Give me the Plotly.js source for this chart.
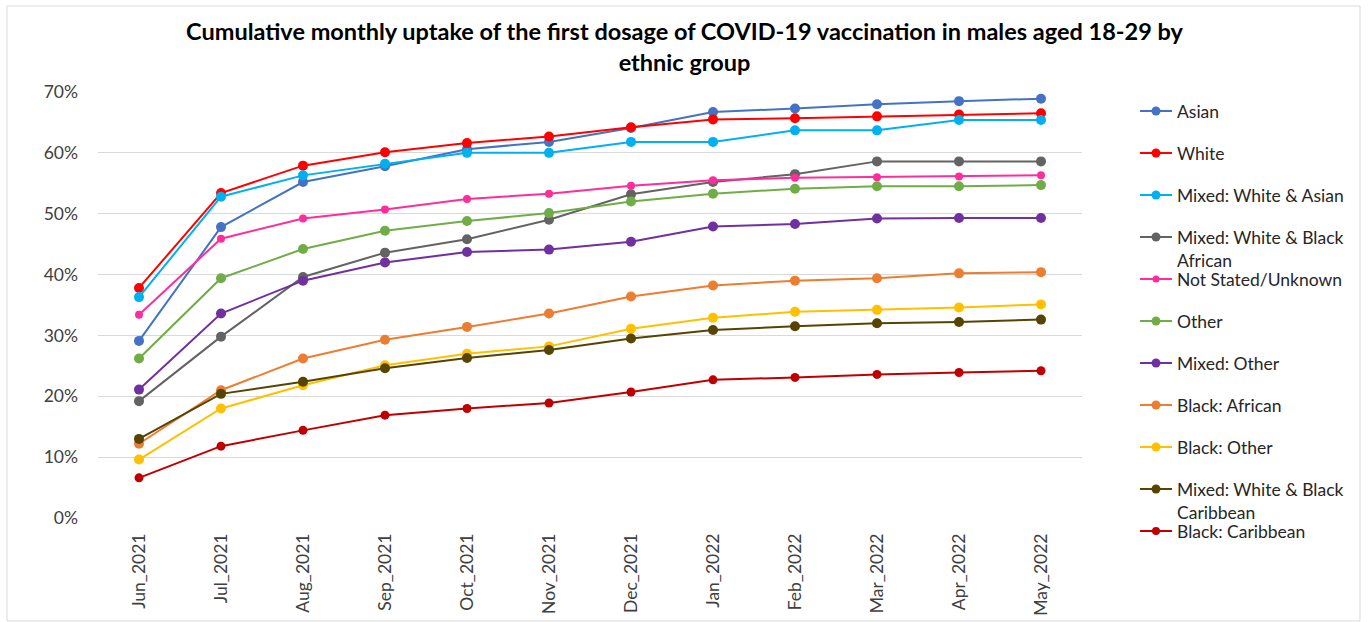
<!DOCTYPE html>
<html>
<head>
<meta charset="utf-8">
<script src="https://cdn.plot.ly/plotly-3.0.1.min.js"></script>
<style>html,body{margin:0;padding:0;background:#fff;}#chart{width:1369px;height:622px;}</style>
</head>
<body>
<div id="chart"></div>
<script>
const months = ["Jun_2021","Jul_2021","Aug_2021","Sep_2021","Oct_2021","Nov_2021","Dec_2021","Jan_2022","Feb_2022","Mar_2022","Apr_2022","May_2022"];

const asian          = [29.1, 47.8, 55.2, 57.8, 60.6, 61.8, 64.1, 66.7, 67.3, 68.0, 68.5, 68.9];
const white          = [37.8, 53.4, 57.9, 60.1, 61.6, 62.7, 64.2, 65.5, 65.7, 66.0, 66.3, 66.5];
const mixedWhiteAsian= [36.3, 52.8, 56.3, 58.2, 60.0, 60.0, 61.8, 61.8, 63.7, 63.7, 65.4, 65.4];
const mixedWhiteBlackAfrican = [19.2, 29.8, 39.6, 43.6, 45.8, 49.0, 53.2, 55.2, 56.5, 58.6, 58.6, 58.6];
const notStated      = [33.4, 45.9, 49.2, 50.7, 52.4, 53.3, 54.6, 55.5, 55.9, 56.0, 56.1, 56.3];
const other          = [26.2, 39.4, 44.2, 47.2, 48.8, 50.1, 52.0, 53.3, 54.1, 54.5, 54.5, 54.7];
const mixedOther     = [21.1, 33.6, 39.0, 42.0, 43.7, 44.1, 45.4, 47.9, 48.3, 49.2, 49.3, 49.3];
const blackAfrican   = [12.2, 21.0, 26.2, 29.3, 31.4, 33.6, 36.4, 38.2, 39.0, 39.4, 40.2, 40.4];
const blackOther     = [9.6, 18.0, 21.8, 25.1, 27.0, 28.2, 31.1, 32.9, 33.9, 34.2, 34.6, 35.1];
const mixedWhiteBlackCaribbean = [13.0, 20.4, 22.4, 24.6, 26.3, 27.6, 29.5, 30.9, 31.5, 32.0, 32.2, 32.6];
const blackCaribbean = [6.6, 11.8, 14.4, 16.9, 18.0, 18.9, 20.7, 22.7, 23.1, 23.6, 23.9, 24.2];

const seriesNames = ["Asian","White","Mixed: White & Asian","Mixed: White & Black African","Not Stated/Unknown","Other","Mixed: Other","Black: African","Black: Other","Mixed: White & Black Caribbean","Black: Caribbean"];
const legendLabels = ["Asian","White","Mixed: White & Asian","Mixed: White & Black<br>African","Not Stated/Unknown","Other","Mixed: Other","Black: African","Black: Other","Mixed: White & Black<br>Caribbean","Black: Caribbean"];
const seriesValues = [asian, white, mixedWhiteAsian, mixedWhiteBlackAfrican, notStated, other, mixedOther, blackAfrican, blackOther, mixedWhiteBlackCaribbean, blackCaribbean];
const colors = ["#4472C4","#FF0000","#00B0F0","#636363","#FF2D9B","#70AD47","#7030A0","#ED7D31","#FFC000","#574400","#C00000"];
const markerSizes = [10,10,10,10,8,10,10,10,10,10,9];

const W = 1369, H = 622;
const plotL = 98, plotR = 1082, plotT = 92, plotB = 518;
const px2x = x => (x - plotL) / (plotR - plotL);
const px2y = y => (plotB - y) / (plotB - plotT);
const FONT = "Lato, sans-serif";

const traces = seriesNames.map((n, i) => ({
  type: "scatter", mode: "lines+markers", name: n,
  x: months, y: seriesValues[i].map(v => v / 100),
  line: {color: colors[i], width: 2},
  marker: {color: colors[i], size: markerSizes[i]},
  showlegend: false,
  hovertemplate: "%{x}: %{y:.1%}<extra>" + n + "</extra>"
}));

// custom legend (to match the reference's layout)
const shapes = [];
const annotations = [];
const legendY0 = 111, legendStep = 42;
const lx0 = 1140, lx1 = 1172, lxm = 1156, ltx = 1175;
seriesNames.forEach((n, i) => {
  const y = legendY0 + i * legendStep;
  shapes.push({type: "line", xref: "paper", yref: "paper", x0: px2x(lx0), x1: px2x(lx1), y0: px2y(y), y1: px2y(y), line: {color: colors[i], width: 2}});
  const r = markerSizes[i] / 2 - 0.5;
  shapes.push({type: "circle", xref: "paper", yref: "paper", x0: px2x(lxm - r), x1: px2x(lxm + r), y0: px2y(y - r), y1: px2y(y + r), fillcolor: colors[i], line: {color: colors[i], width: 0}});
  annotations.push({xref: "paper", yref: "paper", x: px2x(ltx), y: px2y(y - 12), xanchor: "left", yanchor: "top", align: "left",
    text: legendLabels[i], showarrow: false, font: {family: FONT, size: 17.5, color: "#262626"}});
});
// outer frame
shapes.push({type: "rect", xref: "paper", yref: "paper", x0: px2x(7), x1: px2x(1360), y0: px2y(621), y1: px2y(6), line: {color: "#D9D9D9", width: 1}, fillcolor: "rgba(0,0,0,0)", layer: "below"});

const layout = {
  width: W, height: H,
  margin: {l: plotL, r: W - plotR, t: plotT, b: H - plotB},
  paper_bgcolor: "#ffffff", plot_bgcolor: "#ffffff",
  title: {text: "<b>Cumulative monthly uptake of the first dosage of COVID-19 vaccination in males aged 18-29 by<br>ethnic group</b>",
    x: 0.5, xref: "container", xanchor: "center", y: 1 - 40 / 622, yref: "container", yanchor: "top",
    font: {family: FONT, size: 23.5, color: "#000000"}},
  showlegend: false,
  xaxis: {type: "category", tickangle: -90, range: [-0.5, 11.5], showgrid: false, showline: false, zeroline: false,
    ticks: "", ticklabelstandoff: 11,
    tickfont: {family: FONT, size: 17.5, color: "#404040"}},
  yaxis: {range: [0, 0.7], dtick: 0.1, tickformat: ".0%", showgrid: true, gridcolor: "#D9D9D9", gridwidth: 1,
    zeroline: false, showline: false, ticks: "", ticklabelstandoff: 19,
    tickfont: {family: FONT, size: 17.5, color: "#404040"}},
  shapes: shapes,
  annotations: annotations
};

Plotly.newPlot("chart", traces, layout, {displayModeBar: false});
</script>
</body>
</html>
